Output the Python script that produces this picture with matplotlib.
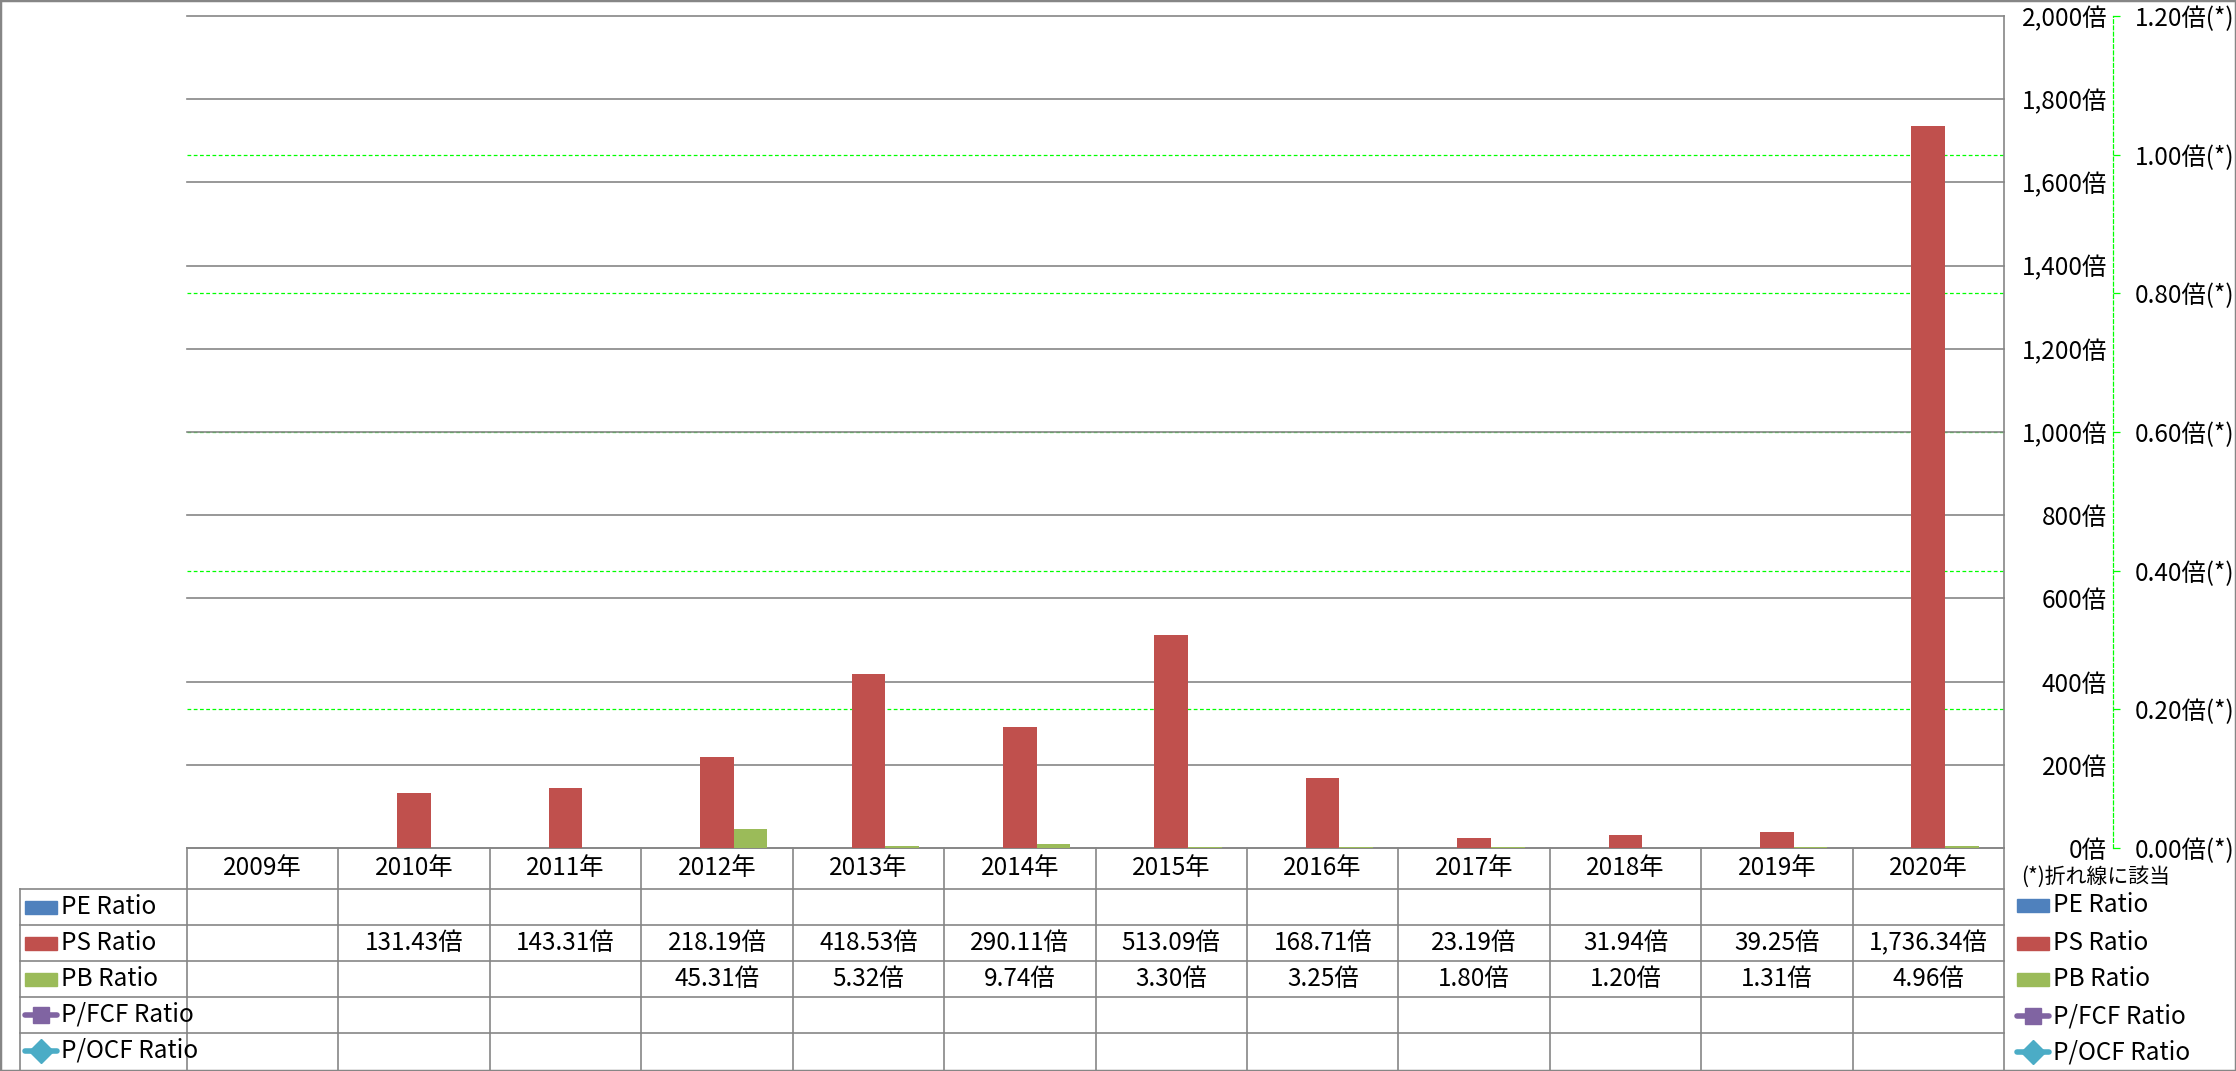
import numpy as np
import matplotlib
matplotlib.use('Agg')
import matplotlib.pyplot as plt
from matplotlib.patches import Rectangle
from matplotlib import transforms

plt.rcParams['font.family'] = ['Noto Sans CJK JP', 'DejaVu Sans']

years = ['2009年', '2010年', '2011年', '2012年', '2013年', '2014年',
         '2015年', '2016年', '2017年', '2018年', '2019年', '2020年']
pe_ratio = [None] * 12
ps_ratio = [None, 131.43, 143.31, 218.19, 418.53, 290.11, 513.09,
            168.71, 23.19, 31.94, 39.25, 1736.34]
pb_ratio = [None, None, None, 45.31, 5.32, 9.74, 3.30, 3.25, 1.80, 1.20, 1.31, 4.96]
pfcf_ratio = [None] * 12
pocf_ratio = [None] * 12

series_names = ['PE Ratio', 'PS Ratio', 'PB Ratio', 'P/FCF Ratio', 'P/OCF Ratio']
series_colors = ['#4F81BD', '#C0504D', '#9BBB59', '#8064A2', '#4BACC6']
left_ticks = list(range(0, 2001, 200))
right_ticks = [0.0, 0.2, 0.4, 0.6, 0.8, 1.0, 1.2]

W, H = 2236, 1071
GRAY = '#868686'
LIME = '#00FF00'
FS = 17.5


def arr(v):
    return np.array([np.nan if x is None else x for x in v], dtype=float)


fig = plt.figure(figsize=(W / 100, H / 100), dpi=100)

# plot area in pixels
px0, px1, py0, py1 = 187, 2004, 16, 848
ax = fig.add_axes([px0 / W, 1 - py1 / H, (px1 - px0) / W, (py1 - py0) / H])
ax2 = ax.twinx()
ax.set_zorder(ax2.get_zorder() + 1)
ax.patch.set_visible(False)

x = np.arange(len(years))
w = 1 / 4.5
for i, vals in enumerate([pe_ratio, ps_ratio, pb_ratio]):
    ax.bar(x + (i - 1) * w, arr(vals), width=w, color=series_colors[i], zorder=3)
ax2.plot(x, arr(pfcf_ratio), color=series_colors[3], marker='s', lw=3)
ax2.plot(x, arr(pocf_ratio), color=series_colors[4], marker='D', lw=3)

ax.set_xlim(-0.5, 11.5)
ax.set_ylim(0, 2000)
ax.set_xticks([])
ax.yaxis.tick_right()
ax.set_yticks(left_ticks)
ax.set_yticklabels([f'{v:,}倍' for v in left_ticks], ha='right')
ax.tick_params(axis='y', length=0, pad=103 * 0.72, labelsize=FS)
ax.grid(axis='y', color=GRAY, lw=1.2, clip_on=False)
ax.set_axisbelow(True)
for s in ['top', 'left']:
    ax.spines[s].set_visible(False)
for s in ['right', 'bottom']:
    ax.spines[s].set_color(GRAY)
    ax.spines[s].set_linewidth(1.2)

ax2.set_ylim(0, 1.2)
ax2.set_yticks(right_ticks)
ax2.set_yticklabels([f'{v:.2f}倍(*)' for v in right_ticks])
ax2.tick_params(axis='y', length=5, width=0.9, color=LIME, pad=11, labelsize=FS)
for v in right_ticks[1:-1]:
    ax2.axhline(v, color=LIME, lw=0.9, linestyle=(0, (3, 2)))
ax2.spines['right'].set_position(('outward', (2113 - px1) * 0.72))
ax2.spines['right'].set_color(LIME)
ax2.spines['right'].set_linestyle((0, (3, 2)))
ax2.spines['right'].set_linewidth(0.9)
for s in ['top', 'left', 'bottom']:
    ax2.spines[s].set_visible(False)

# data table below the plot, drawn in pixel units
tab = fig.add_axes([0, 0, 1, 1], zorder=-5)
tab.set_xlim(0, W)
tab.set_ylim(H, 0)
tab.axis('off')
bt = transforms.blended_transform_factory(ax.transData, tab.transData)

row_lines = [889, 925, 961, 997, 1033]
row_centers = [907, 943, 979, 1015, 1051]
header_y = 868
for yl in row_lines:
    tab.plot([20, px1], [yl, yl], color=GRAY, lw=1.2)
tab.plot([20, 20], [row_lines[0], H - 1], color=GRAY, lw=1.2)
for b in np.arange(-0.5, 12, 1.0):
    tab.plot([b, b], [py1, H - 1], color=GRAY, lw=1.2, transform=bt)

for i, yr in enumerate(years):
    tab.text(i, header_y, yr, ha='center', va='center', fontsize=FS, transform=bt)

all_series = [pe_ratio, ps_ratio, pb_ratio, pfcf_ratio, pocf_ratio]
for r, vals in enumerate(all_series):
    for i, v in enumerate(vals):
        if v is not None:
            tab.text(i, row_centers[r], f'{v:,.2f}倍', ha='center', va='center',
                     fontsize=FS, transform=bt)


def legend_key(x0, xl, y, k):
    c = series_colors[k]
    if k < 3:
        tab.add_patch(Rectangle((x0, y - 6.5), 32, 13, color=c))
    else:
        tab.plot([x0, x0 + 32], [y, y], color=c, lw=4, solid_capstyle='round')
        tab.plot([x0 + 16], [y], color=c, marker='s' if k == 3 else 'D',
                 markersize=11 if k == 3 else 12)
    tab.text(xl, y, series_names[k], ha='left', va='center', fontsize=FS)


legend_y = [905, 943, 979, 1016, 1052]
for k in range(5):
    legend_key(25, 61, row_centers[k], k)
    legend_key(2017, 2053, legend_y[k], k)

tab.text(2021, 877, '(*)折れ線に該当', ha='left', va='center', fontsize=15)

fig.patches.append(Rectangle((0, 0), 1, 1, transform=fig.transFigure, fill=False,
                             edgecolor=GRAY, lw=2.5))

fig.savefig('out.png', dpi=100)
plt.close(fig)
